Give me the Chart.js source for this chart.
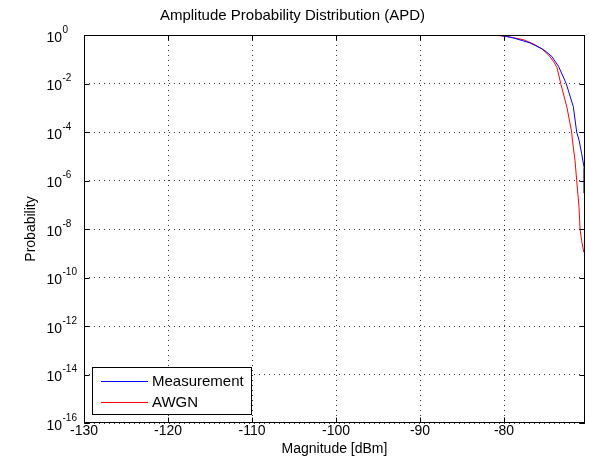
<!DOCTYPE html>
<html>
<head>
<meta charset="utf-8">
<script src="https://cdn.jsdelivr.net/npm/chart.js@4.4.0/dist/chart.umd.min.js"></script>
<style>
  body { margin: 0; background: #fff; }
  canvas { display: block; }
</style>
</head>
<body>
<canvas id="apdChart" width="589" height="465"></canvas>
<script>
// values
const measurementX = [-80.5, -78.9, -76.9, -75.3, -74.3, -73.5, -72.6, -71.75, -71.35, -71.07, -70.76, -70.45, -70.45];
const measurementP = [0.97, 0.76, 0.47, 0.25, 0.13, 0.05, 1e-2, 1.1e-3, 1e-4, 4.6e-5, 1.3e-5, 3.2e-6, 3e-7];

const awgnX = [-82.0, -81.0, -79.7, -77.7, -76.5, -75.5, -74.7, -74.1, -73.7, -73.25, -72.5, -71.95, -71.86, -71.55, -71.35, -71.07, -70.95, -70.76, -70.5];
const awgnP = [0.99, 0.97, 0.88, 0.64, 0.43, 0.27, 0.15, 0.081, 0.046, 1e-2, 1e-3, 1e-4, 4.6e-5, 6.8e-6, 1e-6, 7.9e-8, 1e-8, 3.3e-9, 1.1e-9];

const xTicks = [-130, -120, -110, -100, -90, -80];
const yTickExps = [0, -2, -4, -6, -8, -10, -12, -14, -16];

const seriesNames = ['Measurement', 'AWGN'];
const seriesColors = ['#0000ff', '#ff0000'];

const FONT = 'Arial, "Liberation Sans", Helvetica, sans-serif';

function toPoints(xs, ps) {
    return xs.map((x, i) => ({ x: x, y: ps[i] }));
}

// box, inward ticks, 10^n labels and the legend, drawn MATLAB style
const matlabFrame = {
    id: 'matlabFrame',
    afterDraw(chart) {
        const ctx = chart.ctx;
        const a = chart.chartArea;
        const xs = chart.scales.x;
        const ys = chart.scales.y;
        const L = a.left + 0.5, R = a.right - 0.5, T = a.top + 0.5, B = a.bottom - 0.5;

        ctx.save();
        ctx.strokeStyle = '#000';
        ctx.lineWidth = 1;
        ctx.setLineDash([]);
        ctx.strokeRect(L, T, R - L, B - T);

        ctx.beginPath();
        xTicks.forEach(v => {
            const px = Math.round(xs.getPixelForValue(v)) + 0.5;
            ctx.moveTo(px, B); ctx.lineTo(px, B - 5);
            ctx.moveTo(px, T); ctx.lineTo(px, T + 5);
        });
        yTickExps.forEach(e => {
            const py = Math.round(ys.getPixelForValue(Math.pow(10, e))) + 0.5;
            ctx.moveTo(L, py); ctx.lineTo(L + 5, py);
            ctx.moveTo(R, py); ctx.lineTo(R - 5, py);
        });
        ctx.stroke();

        // y tick labels with superscript exponents
        ctx.fillStyle = '#000';
        ctx.textBaseline = 'middle';
        yTickExps.forEach(e => {
            const py = ys.getPixelForValue(Math.pow(10, e));
            ctx.font = '14px ' + FONT;
            ctx.textAlign = 'right';
            ctx.fillText('10', 62, py + 3);
            ctx.font = '10px ' + FONT;
            ctx.textAlign = 'left';
            ctx.fillText(String(e), 62.5, py - 5);
        });

        // legend in the lower left corner
        const bx = 92.5, by = 367.5, bw = 159, bh = 47;
        ctx.fillStyle = '#fff';
        ctx.fillRect(bx, by, bw, bh);
        ctx.strokeStyle = '#000';
        ctx.strokeRect(bx, by, bw, bh);
        ctx.font = '15px ' + FONT;
        ctx.textAlign = 'left';
        chart.data.datasets.forEach((ds, i) => {
            const ly = by + 13 + i * 21.5;
            ctx.strokeStyle = ds.borderColor;
            ctx.beginPath();
            ctx.moveTo(101, Math.round(ly) + 0.5);
            ctx.lineTo(148, Math.round(ly) + 0.5);
            ctx.stroke();
            ctx.fillStyle = '#000';
            ctx.fillText(ds.label, 152, ly + 1);
        });
        ctx.restore();
    }
};

const ctx = document.getElementById('apdChart').getContext('2d');
const chart = new Chart(ctx, {
    type: 'line',
    data: {
        datasets: [{
            label: seriesNames[0],
            data: toPoints(measurementX, measurementP),
            borderColor: seriesColors[0],
            backgroundColor: seriesColors[0],
            borderWidth: 1,
            pointRadius: 0,
            tension: 0,
            fill: false
        }, {
            label: seriesNames[1],
            data: toPoints(awgnX, awgnP),
            borderColor: seriesColors[1],
            backgroundColor: seriesColors[1],
            borderWidth: 1,
            pointRadius: 0,
            tension: 0,
            fill: false
        }]
    },
    options: {
        responsive: false,
        animation: false,
        devicePixelRatio: 1,
        layout: { padding: { left: 0, right: 4, top: 0, bottom: 0 } },
        plugins: {
            legend: { display: false },
            tooltip: { enabled: false },
            title: {
                display: true,
                text: 'Amplitude Probability Distribution (APD)',
                color: '#000',
                font: { family: FONT, size: 15, weight: 'normal' },
                padding: { top: 7, bottom: 10 }
            }
        },
        scales: {
            x: {
                type: 'linear',
                min: -130,
                max: -70.36,
                afterBuildTicks: s => { s.ticks = xTicks.map(v => ({ value: v })); },
                afterFit: s => { s.height = 42; },
                grid: { color: '#333', lineWidth: 1, drawTicks: false, tickBorderDash: [] },
                border: { display: false, dash: [1, 4] },
                ticks: {
                    color: '#000',
                    font: { family: FONT, size: 14 },
                    padding: 0,
                    maxRotation: 0,
                    autoSkip: false
                },
                title: {
                    display: true,
                    text: 'Magnitude [dBm]',
                    color: '#000',
                    font: { family: FONT, size: 14 },
                    padding: { top: 0, bottom: 7 }
                }
            },
            y: {
                type: 'logarithmic',
                min: 1e-16,
                max: 1,
                afterBuildTicks: s => { s.ticks = yTickExps.map(e => ({ value: Math.pow(10, e) })); },
                afterFit: s => { s.width = 84; },
                grid: { color: '#333', lineWidth: 1, drawTicks: false, tickBorderDash: [] },
                border: { display: false, dash: [1, 4] },
                ticks: { display: false },
                title: {
                    display: true,
                    text: 'Probability',
                    color: '#000',
                    font: { family: FONT, size: 14 },
                    padding: { top: 23, bottom: 0 }
                }
            }
        }
    },
    plugins: [matlabFrame]
});
</script>
</body>
</html>
